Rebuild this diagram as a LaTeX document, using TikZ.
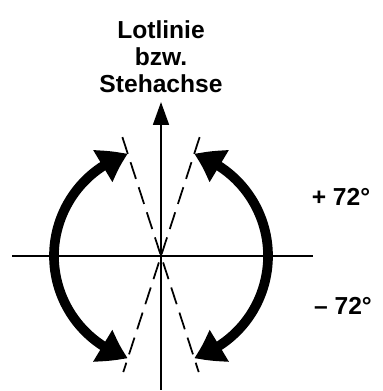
\documentclass[tikz,border=0pt]{standalone}
\usepackage{fontspec}
\setmainfont{Liberation Sans}
\usetikzlibrary{arrows.meta,positioning,bending,calc}
\tikzset{
  lbl/.style={font=\bfseries\fontsize{14}{15.5}\selectfont, align=center, inner sep=0pt},
  axisline/.style={line width=1.2pt, black},
  axisarr/.style={axisline, -{Triangle[length=13pt,width=9pt]}},
  tiltline/.style={line width=1pt, dash pattern=on 10pt off 5pt},
  turnarr/.style={line width=5.5pt,
    {Triangle[length=16pt,width=20pt,bend]}-{Triangle[length=16pt,width=20pt,bend]}},
}

\begin{document}
\begin{tikzpicture}[x=0.02cm, y=0.02cm]
\useasboundingbox (0,0) rectangle (382,391);

% ================= AXES =================
\coordinate (c) at (161,135);
\coordinate (west) at (12,135);
\coordinate (east) at (313,135);
\coordinate (foot) at (161,1);
\coordinate (tip) at (161,289);

\node[lbl, above=5pt of tip] (lot) {Lotlinie\\bzw.\\Stehachse};

\draw[axisline] (west) -- (east);
\draw[axisarr] (foot) -- (tip);

% ================= TILTED AXES (dashed) =================
\coordinate (ra) at ($(c)+(72:125)$);
\coordinate (rb) at ($(c)+(252:122)$);
\coordinate (la) at ($(c)+(108:125)$);
\coordinate (lb) at ($(c)+(288:122)$);
\draw[tiltline] (ra) -- (rb);
\draw[tiltline] (la) -- (lb);

% ================= TURN ARROWS =================
\draw[turnarr] ($(c)+(108:107)$) arc[start angle=108, end angle=252, radius=107];
\draw[turnarr] ($(c)+(72:107)$) arc[start angle=72, end angle=-72, radius=107];

\node[lbl] (plus) at (341,194) {+ 72°};
\node[lbl] (minus) at (343,85) {– 72°};

\end{tikzpicture}
\end{document}
